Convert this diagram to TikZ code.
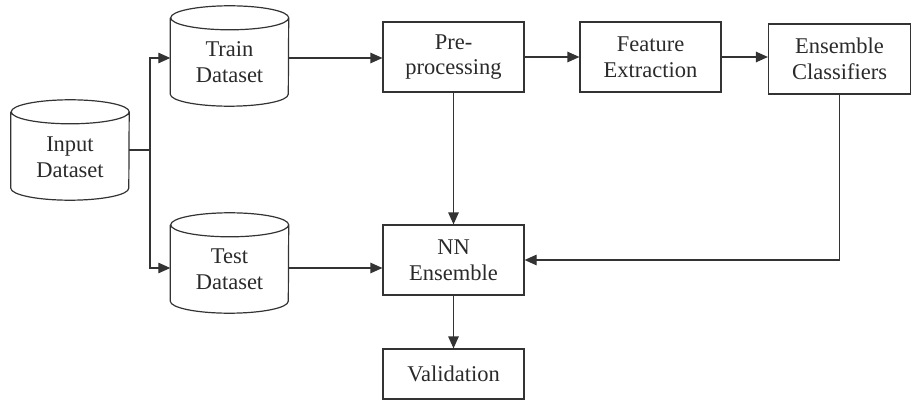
\documentclass[tikz,border=0pt]{standalone}
\usepackage{fontspec}
\setmainfont{Liberation Serif}
\usetikzlibrary{arrows.meta}
\definecolor{ln}{HTML}{333333}
\definecolor{tx}{HTML}{2A2A2A}
\tikzset{
  lbl/.style={text=tx, font=\fontsize{22.5}{25.5}\selectfont, align=center, inner sep=0pt},
  box/.style={lbl, draw=ln, line width=1.2pt, rectangle, minimum width=141pt, minimum height=70pt},
  cyl/.style={rectangle, minimum width=118pt, minimum height=100pt, inner sep=0pt},
  conn/.style={draw=ln, line width=1.2pt},
  arr/.style={conn, -{Triangle[length=12pt,width=10.5pt]}},
}
\newcommand{\mycyl}[1]{%
  \draw[conn] ([yshift=-12pt]#1.north west) -- ([yshift=12pt]#1.south west)
     arc[start angle=180,end angle=360,x radius=59pt,y radius=12pt]
     -- ([yshift=-12pt]#1.north east)
     arc[start angle=0,end angle=360,x radius=59pt,y radius=12pt];
}
\begin{document}
\begin{tikzpicture}[x=1pt,y=1pt]
\useasboundingbox (0,0) rectangle (912,402);
% cylinders (y = 402 - pixel y)
\node[cyl] (in) at (70,252) {};
\node[lbl] (intx) at (70,245) {Input\\Dataset};
\node[cyl] (tr) at (229.5,346) {};
\node[lbl] (trtx) at (229.5,340) {Train\\Dataset};
\node[cyl] (te) at (229.5,139) {};
\node[lbl] (tetx) at (229.5,133) {Test\\Dataset};
\mycyl{in}
\mycyl{tr}
\mycyl{te}
% boxes
\node[box] (pre) at (453.5,345) {Pre-\\processing};
\node[box] (fe) at (650.5,345) {Feature\\Extraction};
\node[box, minimum width=142pt] (ec) at (839.5,343) {Ensemble\\Classifiers};
\node[box] (nn) at (453.5,142) {NN\\Ensemble};
\node[box, minimum height=50pt] (val) at (453.5,28) {Validation};
% connectors
\coordinate (br) at (150,252);
\draw[conn] (in.east |- br) -- (br);
\draw[arr] (br) |- ([yshift=-2pt]tr.west);
\draw[arr] (br) |- ([yshift=-5pt]te.west);
\draw[arr] ([yshift=-2pt]tr.east) -- ([yshift=-2pt]tr.east -| pre.west);
\draw[arr] (pre) -- (fe);
\draw[arr] (fe.east) -- (fe.east -| ec.west);
\draw[arr] ([yshift=-5pt]te.east) -- ([yshift=-5pt]te.east -| nn.west);
\draw[arr] (pre.south) -- (nn.north);
\draw[arr] (ec.south) |- (nn.east);
\draw[arr] (nn.south) -- (val.north);
\end{tikzpicture}
\end{document}
